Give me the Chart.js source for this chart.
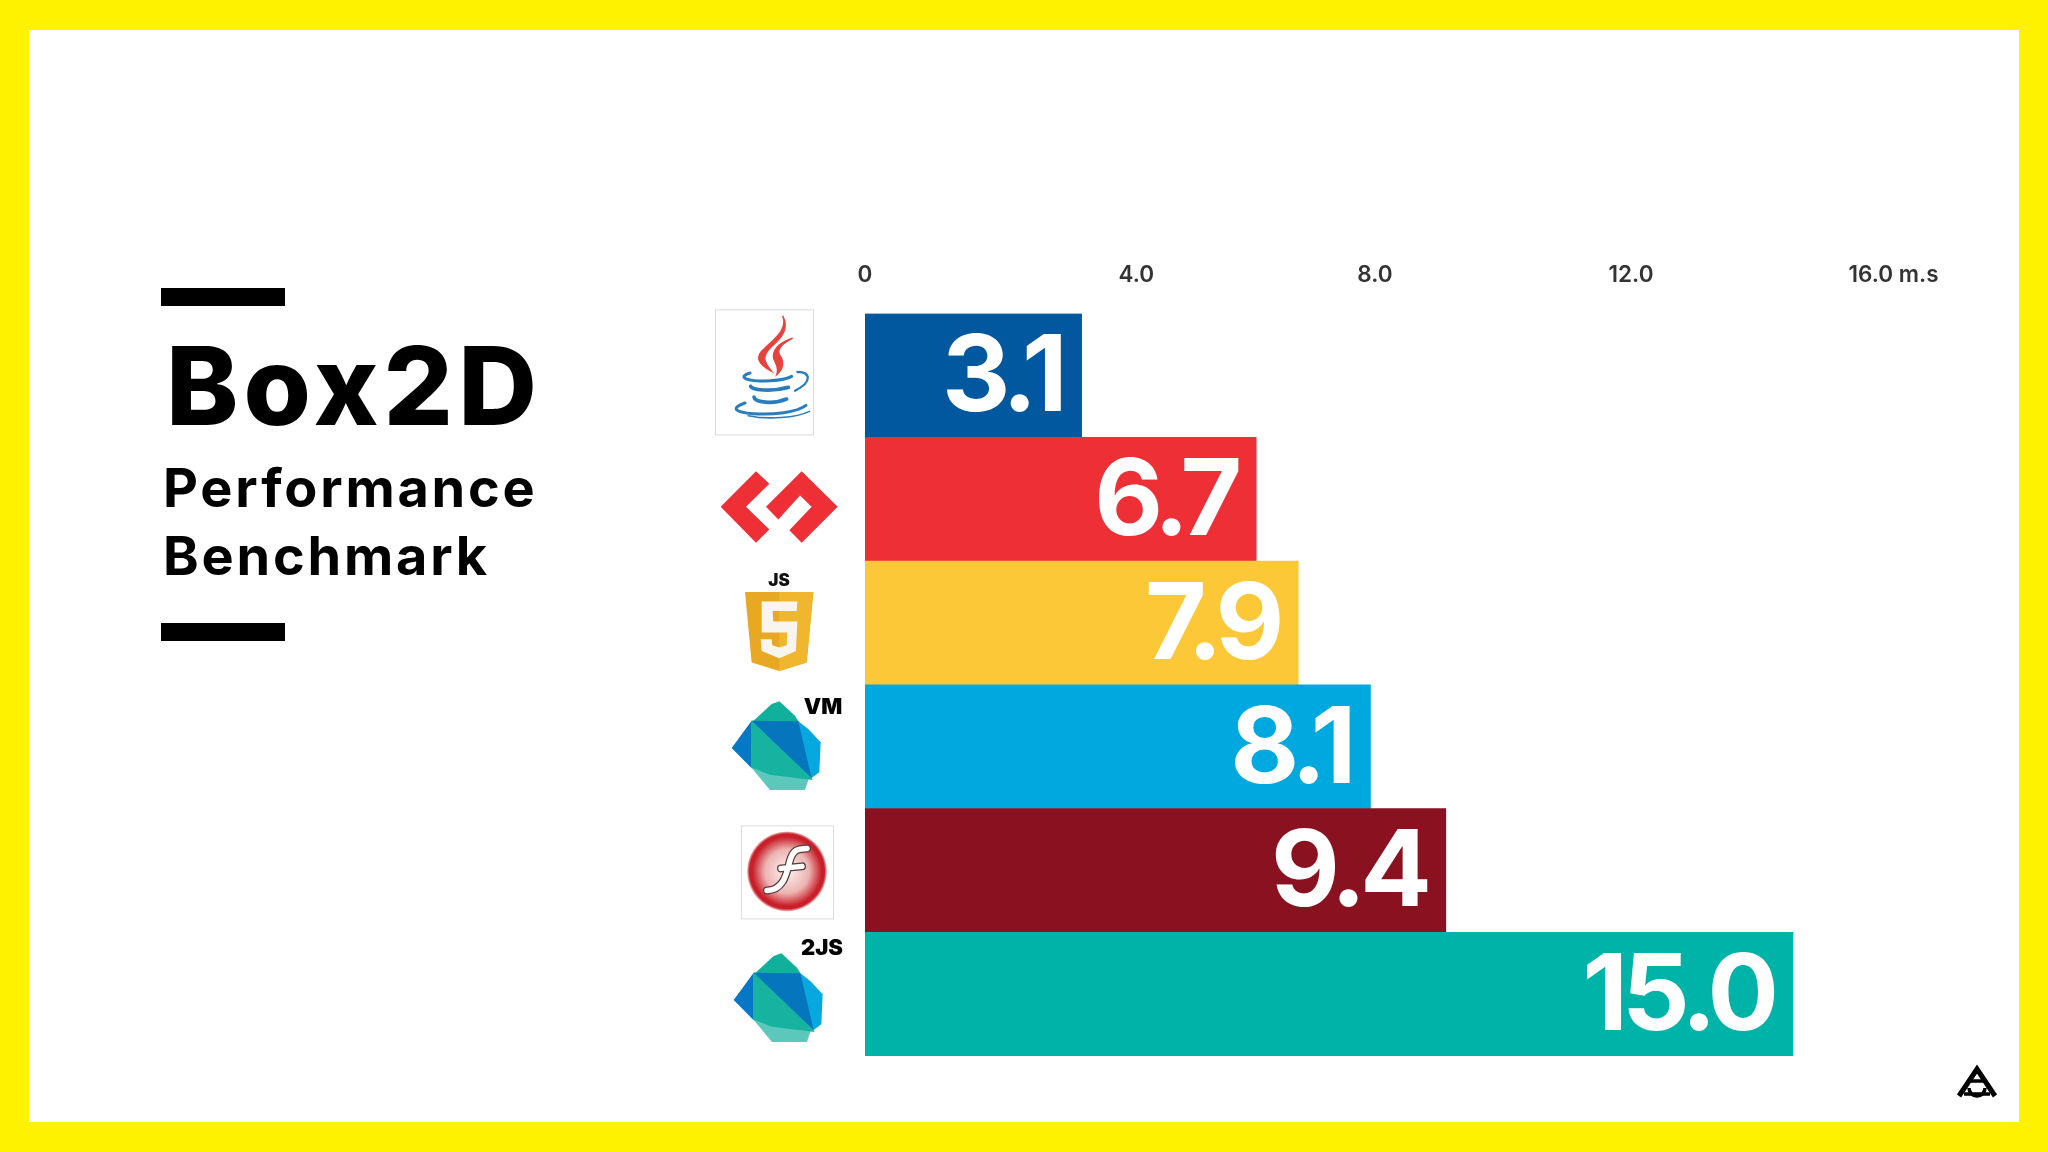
<!DOCTYPE html>
<html><head><meta charset="utf-8">
<style>
html,body{margin:0;padding:0;background:#fff;}
#page{position:relative;width:2048px;height:1152px;overflow:hidden;background:#fff;}
#frame{position:absolute;inset:0;border:solid #FFF200;border-width:30px 29px 30px 29px;box-sizing:border-box;pointer-events:none;}
canvas{position:absolute;left:0;top:0;}
.rule{position:absolute;left:161px;width:124px;height:18px;background:#000;}
.t{position:absolute;color:#000;font-family:Inter,sans-serif;white-space:nowrap;line-height:1;}
#t1{left:166px;top:331px;font-size:109px;font-weight:800;letter-spacing:5px;}
#t2{left:163px;top:461px;font-size:54px;font-weight:700;letter-spacing:2.8px;}
#t3{left:163px;top:529px;font-size:54px;font-weight:700;letter-spacing:2.8px;}
</style>
<script src="https://cdn.jsdelivr.net/npm/chart.js@4"></script>
</head><body>
<div id="page">
<canvas id="c" width="2048" height="1152"></canvas>
<div class="rule" style="top:288px"></div>
<div class="t" id="t1">Box2D</div>
<div class="t" id="t2">Performance</div>
<div class="t" id="t3">Benchmark</div>
<div class="rule" style="top:623px"></div>
<div id="frame"></div>
</div>
<script>
const categories = ["Java","GWT","HTML5 JS","Dart VM","Flash","dart2js"];
// Printed on the bars in the reference.
const printedValues = ["3.1","6.7","7.9","8.1","9.4","15.0"];
// The reference's bars are not drawn to their printed numbers, so lengths are read off the picture.
const barLengths = [3.45,6.23,6.90,8.05,9.25,14.78];
const barColors = ["#01589E","#EE2F36","#FDC838","#00A8E0","#8A1220","#00B3A8"];
// The reference's axis labels are unevenly spaced; these are where they sit.
const tickPositions = [0,4.32,8.12,12.2,16.38];
const tickLabels = ["0","4.0","8.0","12.0","16.0 m.s"];

function poly(ctx,pts,fill,ox,oy,s){
  ctx.beginPath();
  pts.forEach((p,i)=>{const x=ox+p[0]*s,y=oy+p[1]*s; i?ctx.lineTo(x,y):ctx.moveTo(x,y);});
  ctx.closePath();ctx.fillStyle=fill;ctx.fill();
}
function svgPath(ctx,d,ox,oy,s){
  ctx.save();ctx.translate(ox,oy);ctx.scale(s,s);
  return {p:new Path2D(d),done(){ctx.restore();}};
}
function drawJava(ctx,cy){
  const ox=710,oy=cy-69,s=1/3;
  ctx.strokeStyle="#dcdcdc";ctx.lineWidth=1;ctx.strokeRect(715.5,308.5+cy-374,98,125);
  let h=svgPath(ctx,"M218 28C235 70 190 100 165 125C135 150 140 170 185 195C160 165 155 150 185 120C225 85 235 60 218 28ZM248 95C215 105 190 125 190 150C190 165 210 180 200 205C225 185 220 160 208 145C200 125 220 110 248 95Z",ox,oy,s);
  ctx.fillStyle="#E8423F";ctx.fill(h.p);ctx.strokeStyle="#E8423F";ctx.lineWidth=4;ctx.stroke(h.p);h.done();
  [["M120 200C90 208 95 222 150 224C190 224 230 218 245 210",9],
   ["M122 240C125 250 180 258 235 243",11],
   ["M132 272C135 288 190 295 230 278",11],
   ["M105 290C60 305 75 318 130 322C190 326 260 318 288 297",9],
   ["M115 328C170 340 260 335 298 315",5],
   ["M262 197C300 195 310 225 255 253",7]].forEach(a=>{
    const g=svgPath(ctx,a[0],ox,oy,s);ctx.strokeStyle="#2A7DBC";ctx.lineWidth=a[1];ctx.lineCap="round";ctx.stroke(g.p);g.done();
  });
}
function drawGwt(ctx,cy){
  const ox=710,oy=cy-498+450,s=1/3,c="#EE2F36";
  poly(ctx,[[138,60],[178,98],[108,167],[178,235],[138,275],[32,167]],c,ox,oy,s);
  poly(ctx,[[275,60],[383,167],[275,275],[238,237],[305,167],[270,133],[205,205],[168,167]],c,ox,oy,s);
}
function drawHtml5(ctx,cy){
  const ox=710,oy=cy-622+450,s=1/3;
  ctx.fillStyle="#111";ctx.font="900 17px Inter";ctx.textAlign="center";ctx.textBaseline="middle";
  ctx.fillText("JS",779,oy+390*s);
  poly(ctx,[[105,423],[310,423],[290,635],[208,660],[125,635]],"#E7A824",ox,oy,s);
  poly(ctx,[[208,423],[310,423],[290,635],[208,660]],"#F0B62E",ox,oy,s);
  poly(ctx,[[155,452],[262,452],[260,480],[188,480],[190,512],[262,512],[258,600],[208,622],[155,600],[152,565],[185,565],[187,583],[208,590],[230,583],[232,545],[155,545]],"#F7F5EE",ox,oy,s);
}
function drawDartShape(ctx,ox,oy){
  const s=1/3;
  poly(ctx,[[178,32],[225,75],[240,100],[90,100],[155,40]],"#10B09C",ox,oy,s);
  poly(ctx,[[230,88],[265,115],[302,155],[298,245],[270,266]],"#07A8E0",ox,oy,s);
  poly(ctx,[[95,90],[35,172],[98,236]],"#0478C4",ox,oy,s);
  poly(ctx,[[92,228],[150,298],[255,298],[268,258],[150,240]],"#5CC7BB",ox,oy,s);
  poly(ctx,[[93,90],[180,90],[278,268],[150,252],[93,230]],"#16B3A0",ox,oy,s);
  poly(ctx,[[95,90],[235,92],[275,262]],"#0576BE",ox,oy,s);
}
function drawDartVm(ctx,cy){
  const oy=cy-746+690;
  drawDartShape(ctx,720,oy);
  ctx.fillStyle="#000";ctx.font="900 22px Inter";ctx.textAlign="center";ctx.textBaseline="middle";
  ctx.fillText("VM",823,oy+17);
}
function drawFlash(ctx,cy){
  const d=cy-870;
  ctx.strokeStyle="#dcdcdc";ctx.lineWidth=1;ctx.strokeRect(741.5,825.5+d,92,93);
  const g=ctx.createRadialGradient(787,871+d,4,787,871+d,40);
  g.addColorStop(0,"#F8E8E6");g.addColorStop(.5,"#EDB4B2");g.addColorStop(.85,"#C8202A");g.addColorStop(.93,"#C8202A");g.addColorStop(1,"#F2C9C9");
  ctx.fillStyle=g;ctx.beginPath();ctx.arc(787,871+d,40,0,Math.PI*2);ctx.fill();
  const a="M767 890C785 890 787 870 790 860C793 850 797 848 807 848M781 868L802 866";
  ctx.save();ctx.translate(0,d);const p=new Path2D(a);ctx.lineCap="round";
  ctx.strokeStyle="#5a3a3a";ctx.lineWidth=8;ctx.stroke(p);
  ctx.strokeStyle="#fff";ctx.lineWidth=5.5;ctx.stroke(p);ctx.restore();
}
function drawDart2js(ctx,cy){
  const oy=cy-994+942.5;
  drawDartShape(ctx,722,oy);
  ctx.fillStyle="#000";ctx.font="900 22px Inter";ctx.textAlign="center";ctx.textBaseline="middle";
  ctx.fillText("2JS",822,cy-994+948);
}
const iconPainters = [drawJava,drawGwt,drawHtml5,drawDartVm,drawFlash,drawDart2js];

function drawBrandMark(ctx){
  ctx.save();ctx.strokeStyle="#000";ctx.lineCap="butt";ctx.lineWidth=5;
  ctx.beginPath();ctx.moveTo(1959,1096);ctx.lineTo(1977,1069);ctx.lineTo(1995,1096);ctx.stroke();
  ctx.lineWidth=3.5;
  ctx.beginPath();ctx.moveTo(1969,1081);ctx.lineTo(1985,1081);ctx.moveTo(1964,1094);ctx.lineTo(1990,1094);ctx.stroke();
  ctx.beginPath();ctx.arc(1977,1088,8,Math.PI,0,true);ctx.stroke();
  ctx.restore();
}

const overlay = {
  id:"overlay",
  afterDatasetsDraw(chart){
    const ctx=chart.ctx, x=chart.scales.x, y=chart.scales.y;
    ctx.save();
    ctx.fillStyle="#fff";ctx.textAlign="right";ctx.textBaseline="middle";
    ctx.font="700 106px Inter";ctx.letterSpacing="-6px";
    barLengths.forEach((v,i)=>ctx.fillText(printedValues[i],x.getPixelForValue(v)-20,y.getPixelForValue(i)+4));
    ctx.letterSpacing="0px";
    iconPainters.forEach((f,i)=>{ctx.save();f(ctx,y.getPixelForValue(i));ctx.restore();});
    drawBrandMark(ctx);
    ctx.restore();
  }
};

new Chart(document.getElementById("c"),{
  type:"bar",
  data:{labels:categories,datasets:[{data:barLengths,backgroundColor:barColors,borderWidth:0,barPercentage:1,categoryPercentage:1}]},
  plugins:[overlay],
  options:{
    indexAxis:"y",responsive:false,animation:false,
    layout:{padding:{left:865,right:103,top:236.5,bottom:96}},
    plugins:{legend:{display:false},tooltip:{enabled:false},title:{display:false}},
    scales:{
      x:{position:"top",min:0,max:17.2,
         grid:{display:false,drawTicks:false},border:{display:false},
         afterBuildTicks(s){s.ticks=tickPositions.map(v=>({value:v}));},
         ticks:{autoSkip:false,maxRotation:0,padding:25,color:"#333",
                font:{family:"Inter",size:22.5,weight:"600",lineHeight:1.2},
                callback:(v,i)=>tickLabels[i]}},
      y:{display:false,grid:{display:false}}
    }
  }
});
</script>
</body></html>
